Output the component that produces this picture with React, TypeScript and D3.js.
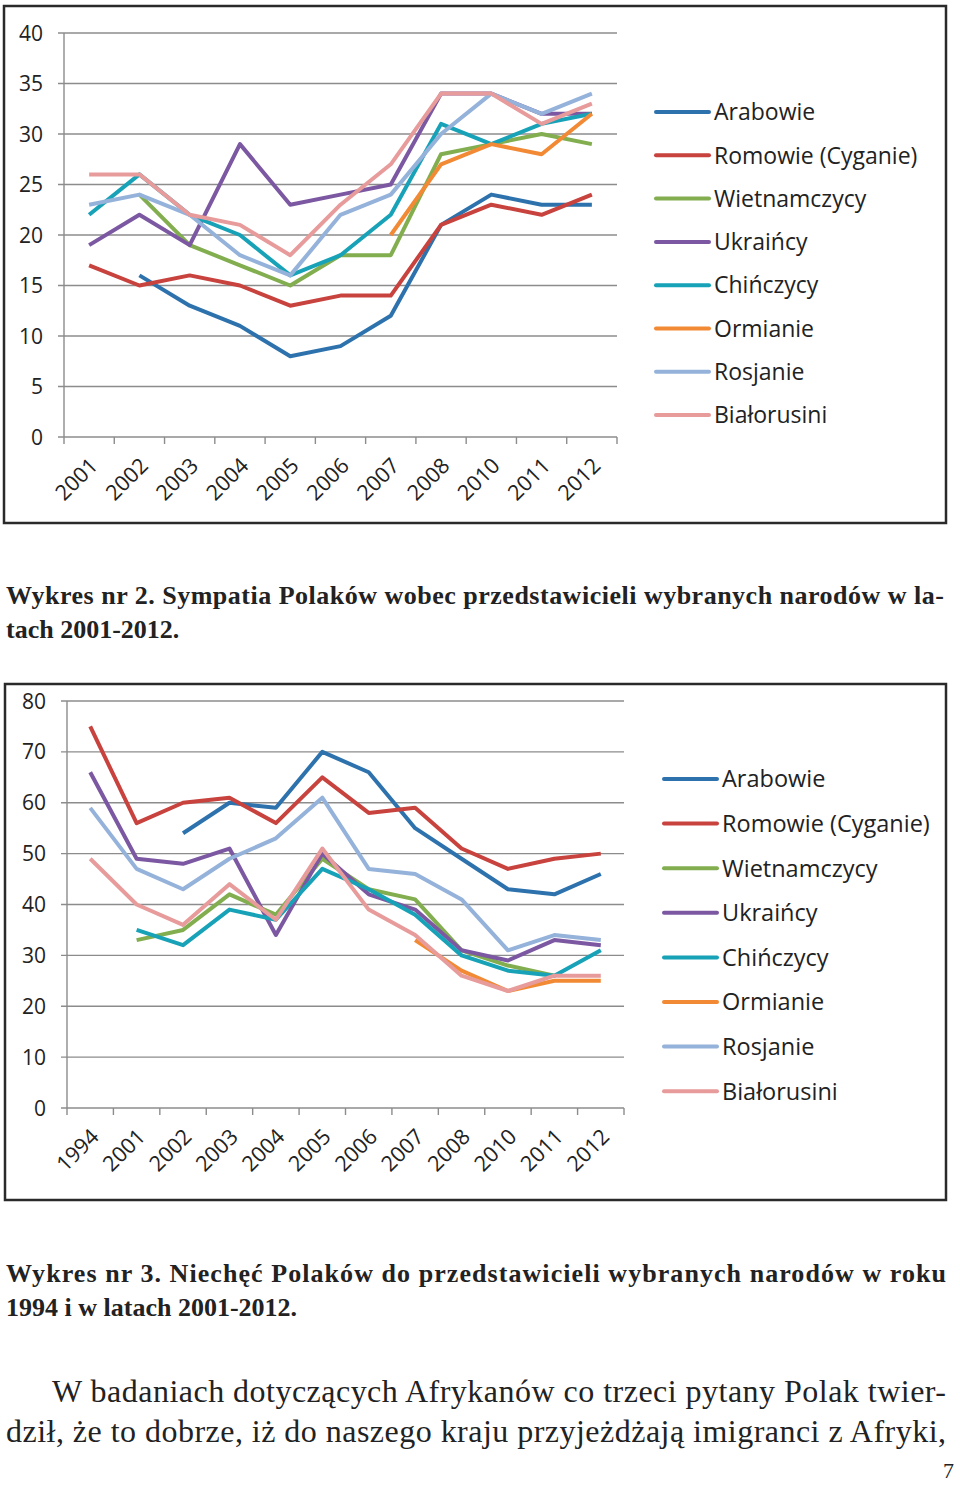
import React from "react";
import * as d3 from "d3";

// series names + colours (same for both charts)
const seriesNames = [
  "Arabowie",
  "Romowie (Cyganie)",
  "Wietnamczycy",
  "Ukraińcy",
  "Chińczycy",
  "Ormianie",
  "Rosjanie",
  "Białorusini",
];
const seriesColors = [
  "#2d72ad",
  "#c8423e",
  "#82ae4f",
  "#7b58a1",
  "#17a2b8",
  "#f28a35",
  "#94b2da",
  "#e89b9b",
];

// Wykres 2 - sympatia
const years2 = ["2001", "2002", "2003", "2004", "2005", "2006", "2007", "2008", "2010", "2011", "2012"];
const yTicks2 = [0, 5, 10, 15, 20, 25, 30, 35, 40];
const arabowie2 = [null, 16, 13, 11, 8, 9, 12, 21, 24, 23, 23];
const romowie2 = [17, 15, 16, 15, 13, 14, 14, 21, 23, 22, 24];
const wietnamczycy2 = [null, 24, 19, 17, 15, 18, 18, 28, 29, 30, 29];
const ukraincy2 = [19, 22, 19, 29, 23, 24, 25, 34, 34, 32, 32];
const chinczycy2 = [22, 26, 22, 20, 16, 18, 22, 31, 29, 31, 32];
const ormianie2 = [null, null, null, null, null, null, 20, 27, 29, 28, 32];
const rosjanie2 = [23, 24, 22, 18, 16, 22, 24, 30, 34, 32, 34];
const bialorusini2 = [26, 26, 22, 21, 18, 23, 27, 34, 34, 31, 33];

// Wykres 3 - niechęć
const years3 = ["1994", "2001", "2002", "2003", "2004", "2005", "2006", "2007", "2008", "2010", "2011", "2012"];
const yTicks3 = [0, 10, 20, 30, 40, 50, 60, 70, 80];
const arabowie3 = [null, null, 54, 60, 59, 70, 66, 55, 49, 43, 42, 46];
const romowie3 = [75, 56, 60, 61, 56, 65, 58, 59, 51, 47, 49, 50];
const wietnamczycy3 = [null, 33, 35, 42, 38, 49, 43, 41, 31, 28, 26, null];
const ukraincy3 = [66, 49, 48, 51, 34, 50, 42, 39, 31, 29, 33, 32];
const chinczycy3 = [null, 35, 32, 39, 37, 47, 43, 38, 30, 27, 26, 31];
const ormianie3 = [null, null, null, null, null, null, null, 33, 27, 23, 25, 25];
const rosjanie3 = [59, 47, 43, 49, 53, 61, 47, 46, 41, 31, 34, 33];
const bialorusini3 = [49, 40, 36, 44, 37, 51, 39, 34, 26, 23, 26, 26];

const sans = "'Open Sans', 'DejaVu Sans', sans-serif";
const serif = "'Liberation Serif', 'DejaVu Serif', serif";

type Props = {
  box: [number, number, number, number];
  left: number;
  right: number;
  top: number;
  bottom: number;
  cats: string[];
  ticks: number[];
  series: (number | null)[][];
  legendX: number;
  legendY: number;
  legendStep: number;
  legendFont: number;
};

const LineChart = ({
  box,
  left,
  right,
  top,
  bottom,
  cats,
  ticks,
  series,
  legendX,
  legendY,
  legendStep,
  legendFont,
}: Props) => {
  const x = d3.scaleBand().domain(cats).range([left, right]).padding(0);
  const y = d3.scaleLinear().domain([0, d3.max(ticks)!]).range([bottom, top]);
  const bw = x.bandwidth();
  const edges = cats.map((c) => x(c)!).concat([right]);

  const line = d3
    .line<number | null>()
    .defined((d) => d != null)
    .x((_, i) => x(cats[i])! + bw / 2)
    .y((d) => y(d as number));

  return (
    <g>
      <rect x={box[0]} y={box[1]} width={box[2]} height={box[3]} fill="white" stroke="#2a2a2a" strokeWidth={2.5} />
      {/* grid */}
      {ticks.map((t) => (
        <g key={t}>
          <line x1={left - 6} x2={right} y1={y(t)} y2={y(t)} stroke="#8c8c8c" strokeWidth={1.4} />
          <text x={left - 21} y={y(t) + 7.5} textAnchor="end" fontFamily={sans} fontSize={21} fill="#222">
            {t}
          </text>
        </g>
      ))}
      <line x1={left} x2={left} y1={top} y2={bottom} stroke="#8c8c8c" strokeWidth={1.4} />
      {edges.map((e, i) => (
        <line key={i} x1={e} x2={e} y1={bottom} y2={bottom + 7} stroke="#8c8c8c" strokeWidth={1.4} />
      ))}
      {cats.map((c) => {
        const cx = x(c)! + bw / 2 + 10;
        const cy = bottom + 30;
        return (
          <text
            key={c}
            transform={`translate(${cx},${cy}) rotate(-45)`}
            textAnchor="end"
            fontFamily={sans}
            fontSize={21.5}
            fill="#222"
          >
            {c}
          </text>
        );
      })}
      {/* lines */}
      {series.map((s, i) => (
        <path
          key={i}
          d={line(s) || ""}
          fill="none"
          stroke={seriesColors[i]}
          strokeWidth={4}
          strokeLinejoin="round"
        />
      ))}
      {/* legend */}
      {seriesNames.map((n, i) => (
        <g key={n} transform={`translate(${legendX},${legendY + i * legendStep})`}>
          <line x1={0} x2={53} y1={0} y2={0} stroke={seriesColors[i]} strokeWidth={4} strokeLinecap="round" />
          <text x={58} y={legendFont * 0.36} fontFamily={sans} fontSize={legendFont} fill="#222">
            {n}
          </text>
        </g>
      ))}
    </g>
  );
};

export default function App() {
  return (
    <svg
      width={960}
      height={1485}
      style={{ position: "absolute", left: 0, top: 0, background: "white" }}
    >
      <rect width={960} height={1485} fill="white" />
      <LineChart
        box={[4, 6, 942, 517]}
        left={64}
        right={617}
        top={33}
        bottom={437}
        cats={years2}
        ticks={yTicks2}
        series={[arabowie2, romowie2, wietnamczycy2, ukraincy2, chinczycy2, ormianie2, rosjanie2, bialorusini2]}
        legendX={656}
        legendY={112}
        legendStep={43.3}
        legendFont={23}
      />
      <text x={6} y={604} fontFamily={serif} fontWeight="bold" fontSize={26} fill="#222" textLength={938} lengthAdjust="spacing">
        Wykres nr 2. Sympatia Polaków wobec przedstawicieli wybranych narodów w la-
      </text>
      <text x={6} y={638} fontFamily={serif} fontWeight="bold" fontSize={26} fill="#222">
        tach 2001-2012.
      </text>

      <LineChart
        box={[5, 684, 941, 516]}
        left={67}
        right={624}
        top={701}
        bottom={1108}
        cats={years3}
        ticks={yTicks3}
        series={[arabowie3, romowie3, wietnamczycy3, ukraincy3, chinczycy3, ormianie3, rosjanie3, bialorusini3]}
        legendX={664}
        legendY={779}
        legendStep={44.6}
        legendFont={23.5}
      />
      <text x={6} y={1282} fontFamily={serif} fontWeight="bold" fontSize={26} fill="#222" textLength={940} lengthAdjust="spacing">
        Wykres nr 3. Niechęć Polaków do przedstawicieli wybranych narodów w roku
      </text>
      <text x={6} y={1316} fontFamily={serif} fontWeight="bold" fontSize={26} fill="#222">
        1994 i w latach 2001-2012.
      </text>

      <text x={52} y={1402} fontFamily={serif} fontSize={32} fill="#222" textLength={894} lengthAdjust="spacing">
        W badaniach dotyczących Afrykanów co trzeci pytany Polak twier-
      </text>
      <text x={6} y={1442} fontFamily={serif} fontSize={32} fill="#222" textLength={940} lengthAdjust="spacing">
        dził, że to dobrze, iż do naszego kraju przyjeżdżają imigranci z Afryki,
      </text>
      <text x={954} y={1478} textAnchor="end" fontFamily={serif} fontSize={22} fill="#222">
        7
      </text>
    </svg>
  );
}
